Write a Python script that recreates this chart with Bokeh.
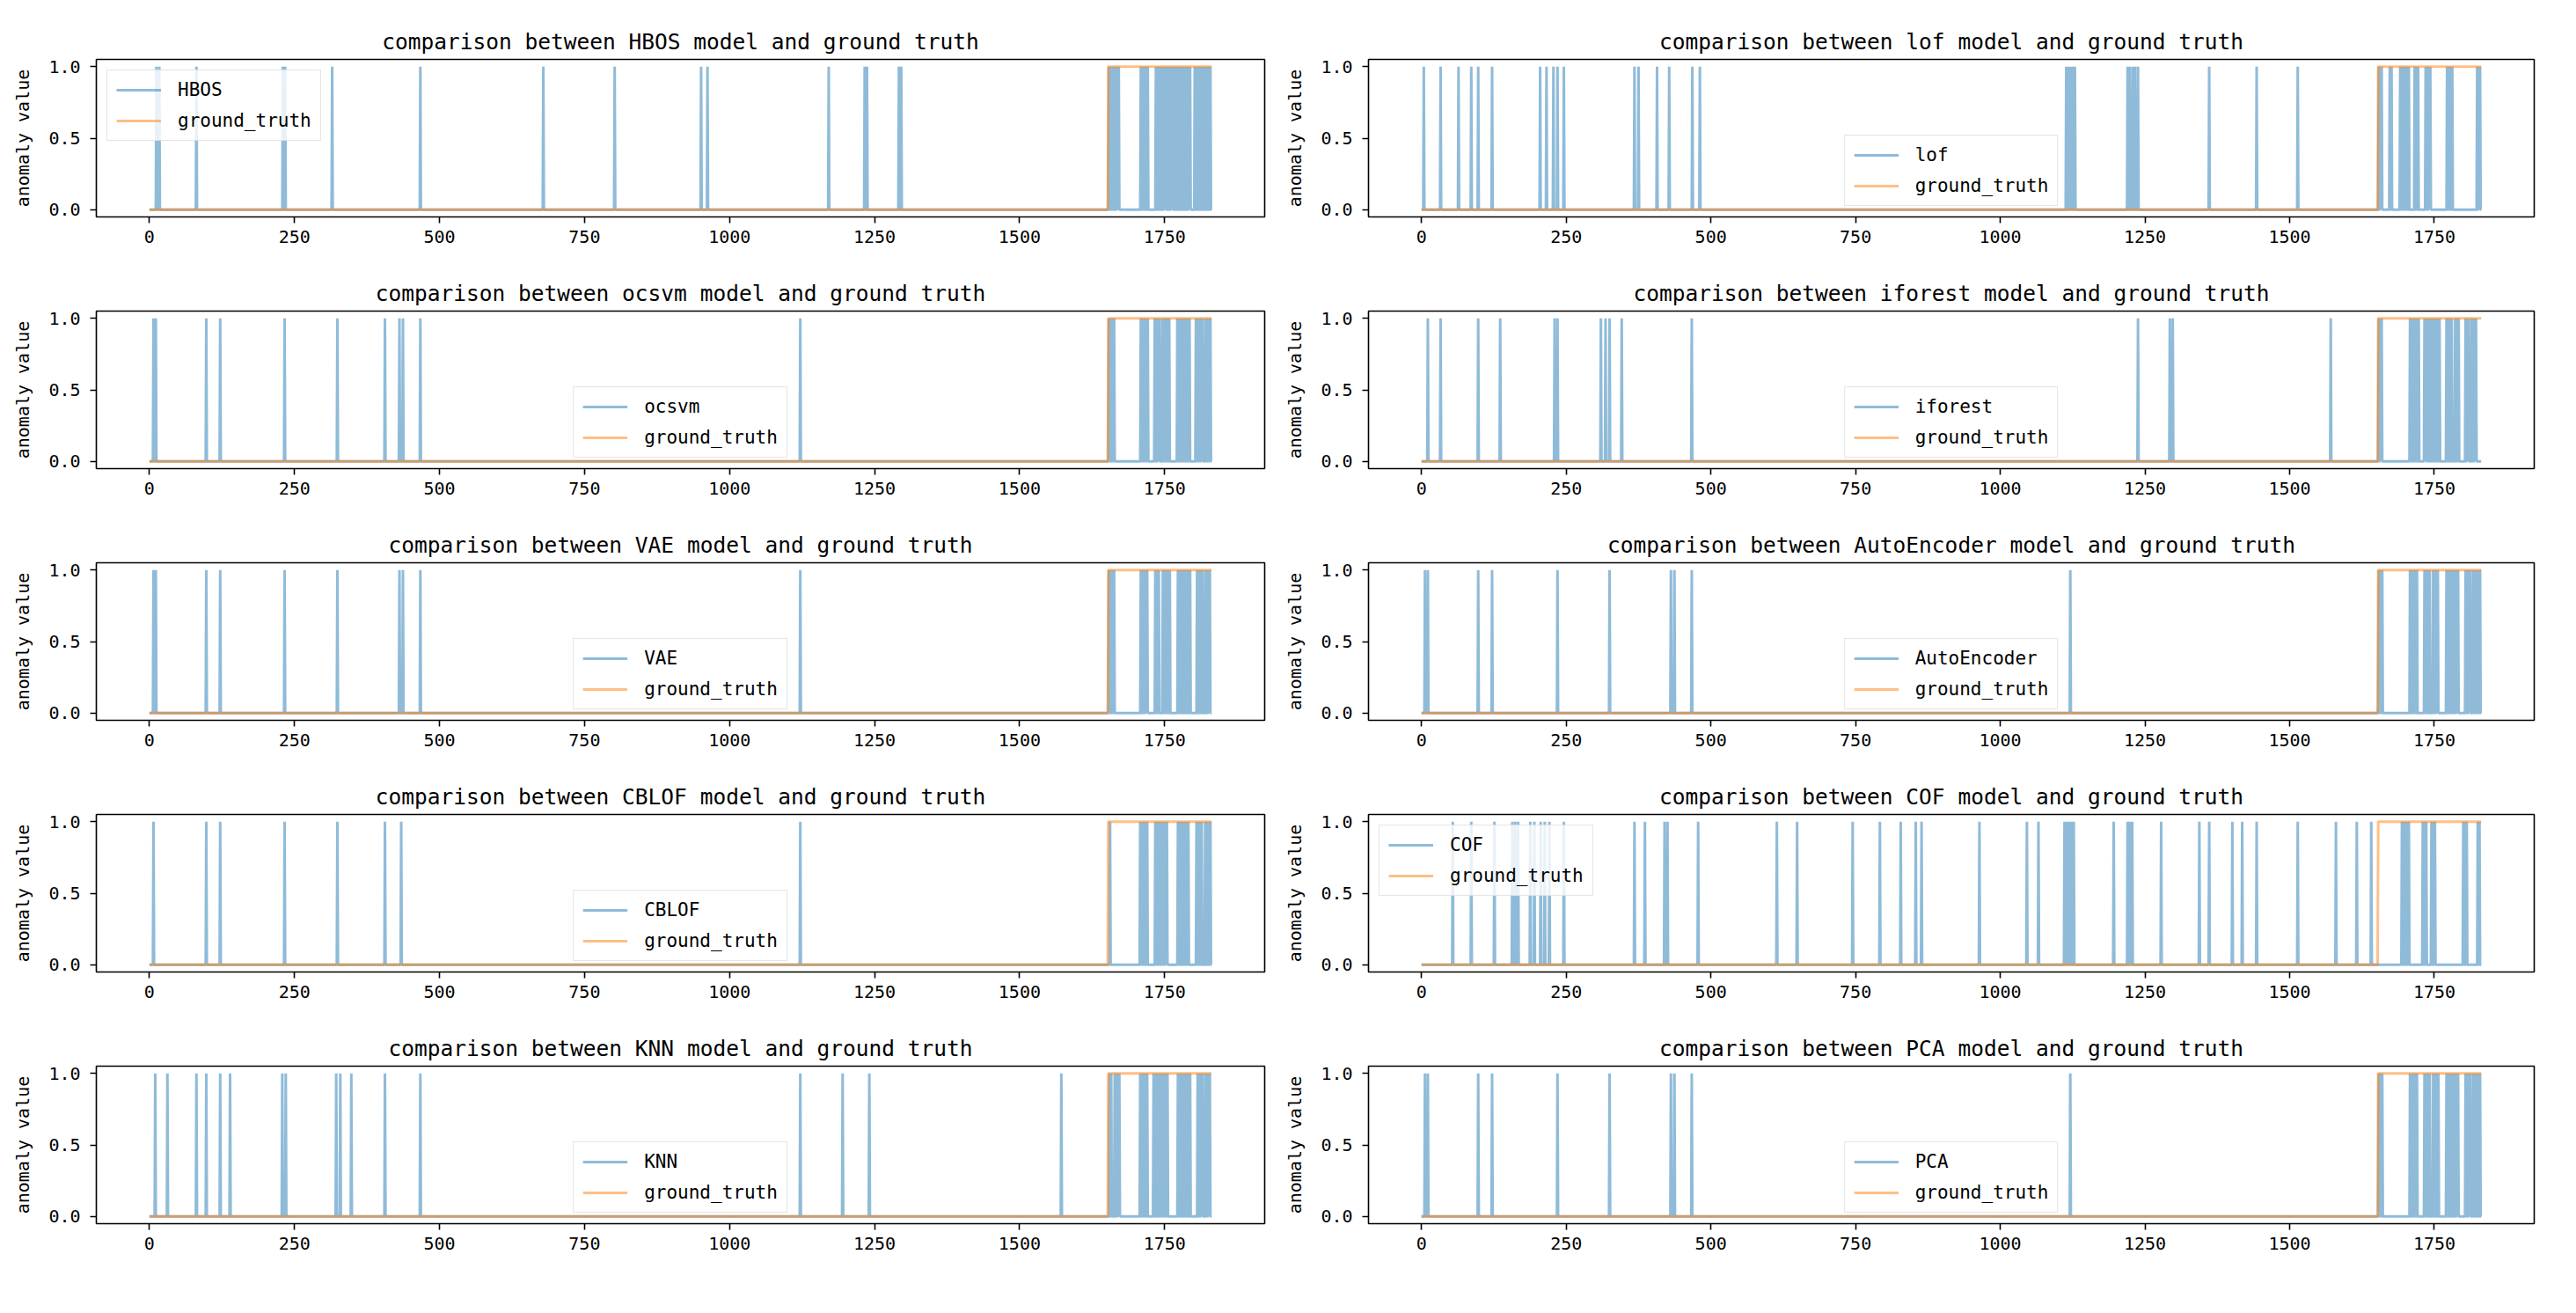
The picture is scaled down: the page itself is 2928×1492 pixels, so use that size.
import numpy as np
from bokeh.plotting import figure
from bokeh.layouts import column, row
from bokeh.models import FixedTicker, PrintfTickFormatter
from bokeh.embed import file_html
from bokeh.resources import INLINE

# ---------------- data ----------------
n_points = 1832
x_ticks = [0, 250, 500, 750, 1000, 1250, 1500, 1750]
y_ticks = [0.0, 0.5, 1.0]

ground_truth_runs = [(1653, 1831)]

model_names = ["HBOS", "lof", "ocsvm", "iforest", "VAE",
               "AutoEncoder", "CBLOF", "COF", "KNN", "PCA"]

hbos_idx = [12, 17, 81, 230, 234, 315, 467, 679, 802, 951, 962, 1171, 1233, 1237, 1292, 1296,
            1654, 1657, 1660, 1663, 1666, 1669, 1671,
            1709, 1712, 1715, 1718, 1721,
            1735, 1738, 1741, 1744, 1747, 1750, 1752, 1756, 1759, 1762, 1764,
            1768, 1771, 1774, 1777, 1780, 1783, 1786, 1789, 1792, 1794,
            1802, 1805, 1808, 1811, 1814, 1817, 1820, 1823, 1826, 1829]

lof_idx = [4, 33, 64, 86, 98, 122, 205, 216, 228, 235, 246, 368, 375, 407, 428, 468, 481,
           1114, 1117, 1120, 1123, 1126, 1129, 1220, 1224, 1229, 1233, 1238, 1361, 1443, 1514,
           1654, 1657, 1659, 1673, 1676, 1691, 1694, 1697, 1700, 1703, 1706,
           1716, 1719, 1722, 1735, 1738, 1741, 1743, 1772, 1775, 1778, 1781, 1824, 1827, 1829]

ocsvm_idx = [7, 11, 98, 122, 233, 324, 406, 431, 437, 467, 1122,
             1654, 1657, 1660, 1663, 1709, 1712, 1715, 1718, 1721,
             1733, 1736, 1739, 1741, 1746, 1749, 1752, 1755, 1758,
             1772, 1775, 1778, 1781, 1784, 1787, 1790, 1793,
             1804, 1807, 1810, 1813, 1815, 1820, 1823, 1826, 1829]

iforest_idx = [11, 33, 98, 136, 230, 235, 310, 318, 325, 346, 467, 1238, 1293, 1298, 1571,
               1654, 1657, 1659, 1708, 1711, 1714, 1717, 1720, 1723,
               1733, 1735, 1738, 1741, 1744, 1747, 1750, 1753, 1756, 1759,
               1771, 1774, 1777, 1780, 1786, 1789, 1792, 1804, 1807, 1809,
               1814, 1817, 1820, 1822]

vae_idx = [7, 11, 98, 122, 233, 324, 431, 437, 467, 1122,
           1654, 1657, 1660, 1663, 1709, 1712, 1715, 1718, 1720,
           1734, 1737, 1740, 1747, 1750, 1753, 1756, 1759,
           1773, 1776, 1779, 1782, 1785, 1788, 1791, 1794,
           1806, 1809, 1812, 1815, 1820, 1823, 1826, 1828]

ae_idx = [6, 11, 98, 122, 235, 325, 431, 437, 467, 1121,
          1654, 1657, 1660, 1708, 1711, 1714, 1717, 1720,
          1733, 1736, 1739, 1742, 1748, 1751, 1754, 1756,
          1771, 1774, 1777, 1780, 1783, 1786, 1789, 1791,
          1804, 1807, 1810, 1812, 1817, 1820, 1823, 1826, 1829]

cblof_idx = [7, 98, 122, 233, 324, 406, 434, 1122,
             1656, 1708, 1711, 1714, 1717, 1720,
             1734, 1737, 1740, 1743, 1746, 1749, 1752, 1754,
             1773, 1776, 1779, 1782, 1785, 1788, 1791,
             1805, 1808, 1811, 1814, 1820, 1823, 1826, 1829]

cof_idx = [54, 86, 126, 157, 162, 167, 188, 195, 206, 213, 221, 246, 368, 386, 420, 425, 478,
           614, 649, 745, 792, 828, 854, 864, 964, 1046, 1066, 1111, 1115, 1119, 1123, 1127,
           1196, 1220, 1224, 1228, 1278, 1344, 1361, 1401, 1418, 1443, 1514, 1580, 1616, 1641,
           1694, 1697, 1700, 1703, 1706, 1730, 1733, 1736, 1745, 1748, 1751,
           1800, 1803, 1806, 1825, 1828]

knn_idx = [10, 31, 81, 98, 122, 139, 229, 235, 322, 329, 348, 406, 467, 1122, 1195, 1241, 1572,
           1655, 1658, 1664, 1667, 1670, 1672, 1708, 1711, 1714, 1717, 1720,
           1731, 1734, 1737, 1740, 1743, 1746, 1749, 1752, 1755,
           1773, 1776, 1779, 1782, 1785, 1788, 1791, 1794,
           1807, 1810, 1813, 1815, 1820, 1823, 1826, 1828]

pca_idx = [6, 11, 98, 122, 235, 325, 431, 437, 467, 1121,
           1654, 1657, 1660, 1708, 1711, 1714, 1717, 1720,
           1733, 1736, 1739, 1742, 1748, 1751, 1754, 1757,
           1771, 1774, 1777, 1780, 1783, 1786, 1789, 1791,
           1804, 1807, 1810, 1812, 1817, 1820, 1823, 1826, 1829]

model_indices = [hbos_idx, lof_idx, ocsvm_idx, iforest_idx, vae_idx,
                 ae_idx, cblof_idx, cof_idx, knn_idx, pca_idx]
legend_locs = ["top_left", "bottom_center", "bottom_center", "bottom_center", "bottom_center",
               "bottom_center", "bottom_center", "top_left", "bottom_center", "bottom_center"]

# ---------------- build series ----------------
xs = np.arange(n_points)
gt = np.zeros(n_points)
for a, b in ground_truth_runs:
    gt[a:b + 1] = 1.0

FONT = "DejaVu Sans Mono"
BLUE = "#1f77b4"
ORANGE = "#ff7f0e"


def make_panel(i):
    name = model_names[i]
    y = np.zeros(n_points)
    y[np.array(model_indices[i])] = 1.0
    left_col = (i % 2 == 0)
    if left_col:
        w, bl = 1457, 109
    else:
        w, bl = 1443, 97
    p = figure(width=w, height=286, output_backend="svg", toolbar_location=None,
               x_range=(-91.55, 1922.55), y_range=(-0.05, 1.05),
               min_border_left=bl, min_border_right=20,
               min_border_top=67, min_border_bottom=40,
               title="comparison between %s model and ground truth" % name)
    p.line(xs, y, line_color=BLUE, line_alpha=0.5, line_width=3, legend_label=name)
    p.line(xs, gt, line_color=ORANGE, line_alpha=0.5, line_width=3, legend_label="ground_truth")

    p.title.align = "center"
    p.title.text_font = FONT
    p.title.text_font_size = "24.5px"
    p.title.text_font_style = "normal"
    p.title.text_color = "black"
    p.title.standoff = 11

    p.xgrid.visible = False
    p.ygrid.visible = False
    p.outline_line_color = "black"
    p.outline_line_width = 1.6
    p.outline_line_alpha = 1.0

    p.xaxis.ticker = FixedTicker(ticks=x_ticks)
    p.yaxis.ticker = FixedTicker(ticks=y_ticks)
    p.yaxis.formatter = PrintfTickFormatter(format="%.1f")
    p.yaxis.axis_label = "anomaly value"
    p.yaxis.axis_label_text_font = FONT
    p.yaxis.axis_label_text_font_size = "20px"
    p.yaxis.axis_label_text_font_style = "normal"
    p.yaxis.axis_label_text_color = "black"
    p.yaxis.axis_label_standoff = 14
    for ax in (p.xaxis, p.yaxis):
        ax.axis_line_color = None
        ax.major_tick_in = 0
        ax.major_tick_out = 7
        ax.major_tick_line_width = 1.6
        ax.major_tick_line_color = "black"
        ax.minor_tick_line_color = None
        ax.major_label_text_font = FONT
        ax.major_label_text_font_size = "20px"
        ax.major_label_text_color = "black"
    p.xaxis.major_label_standoff = 8
    p.yaxis.major_label_standoff = 11

    lg = p.legend[0]
    lg.location = legend_locs[i]
    lg.margin = 12
    lg.padding = 10
    lg.spacing = 11
    lg.glyph_width = 51
    lg.glyph_height = 24
    lg.label_height = 24
    lg.label_standoff = 19
    lg.label_text_font = FONT
    lg.label_text_font_size = "21px"
    lg.label_text_color = "black"
    lg.border_line_color = "#cccccc"
    lg.border_line_width = 1.5
    lg.background_fill_color = "white"
    lg.background_fill_alpha = 0.8
    return p


panels = [make_panel(i) for i in range(10)]
layout = column(*[row(panels[2 * r], panels[2 * r + 1]) for r in range(5)])

open("out.html", "w").write(file_html(layout, INLINE))
